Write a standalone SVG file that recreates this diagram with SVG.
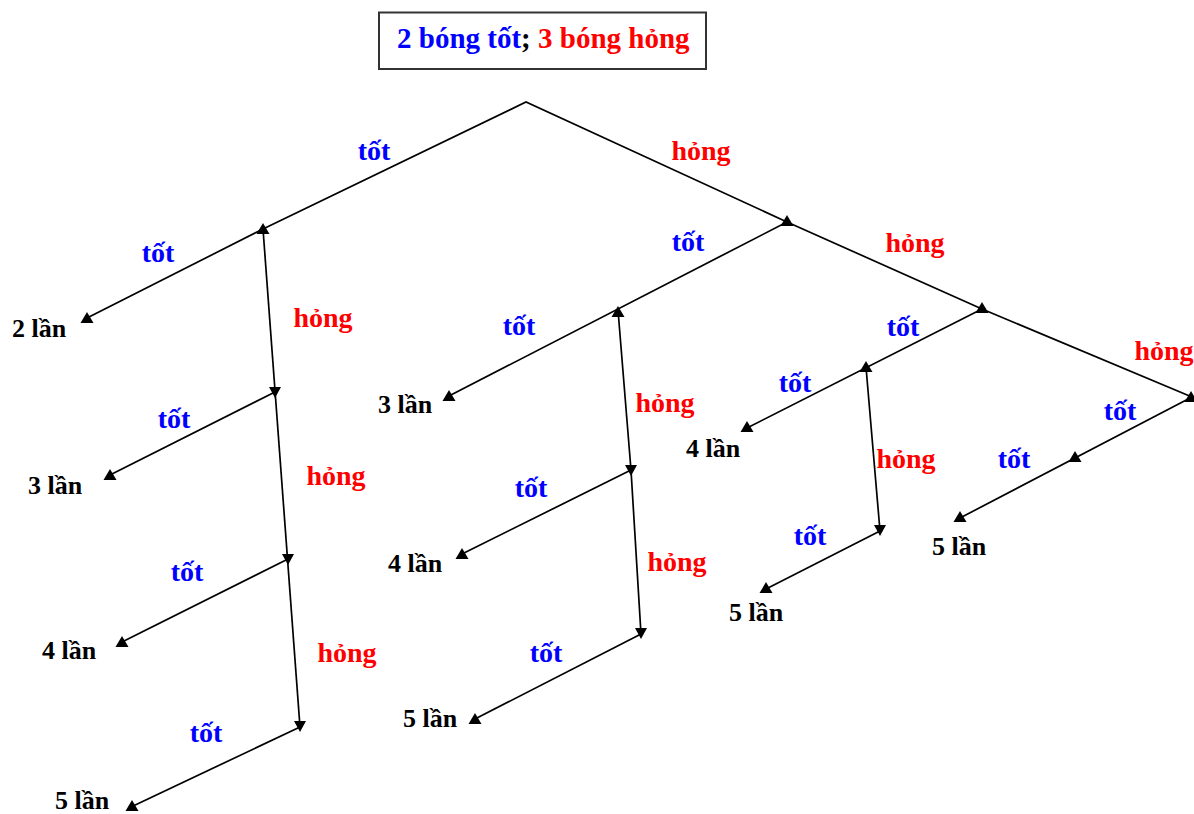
<svg xmlns="http://www.w3.org/2000/svg" xmlns:xlink="http://www.w3.org/1999/xlink" width="1194" height="814" viewBox="0 0 1194 814">
<style>
text{font-family:"Liberation Serif","Times New Roman",serif;font-weight:bold}
.lb{font-size:28px;text-anchor:middle}
.t{fill:#0000ff}
.h{fill:#ff0000}
.n{font-size:26px;fill:#000}
.ln{fill:none;stroke:#000;stroke-width:1.7}
</style>
<defs>
<path id="up" d="M0,-6 L6.5,5 L-6.5,5 Z" fill="#000"/>
<path id="dn" d="M0,6 L6,-5 L-6,-5 Z" fill="#000"/>
</defs>
<rect x="379" y="12.5" width="327" height="56.5" fill="#fff" stroke="#333" stroke-width="2"/>
<text x="397" y="48" style="font-size:29px"><tspan fill="#0000ff">2 bóng tốt</tspan><tspan fill="#000">;</tspan><tspan fill="#ff0000"> 3 bóng hỏng</tspan></text>
<g id="connectors">
<polyline class="ln" points="263,229 526,102 787,222 982,309 1192,397"/>
<line class="ln" x1="263" y1="229" x2="87" y2="318"/>
<line class="ln" x1="263" y1="229" x2="300" y2="727"/>
<line class="ln" x1="275" y1="392" x2="108" y2="476"/>
<line class="ln" x1="288" y1="559" x2="120" y2="643"/>
<line class="ln" x1="300" y1="727" x2="131" y2="807"/>
<line class="ln" x1="787" y1="222" x2="447" y2="397"/>
<polyline class="ln" points="618,310 631,470 641,634"/>
<line class="ln" x1="631" y1="470" x2="460" y2="555"/>
<line class="ln" x1="641" y1="634" x2="473" y2="720"/>
<line class="ln" x1="982" y1="309" x2="747" y2="428"/>
<line class="ln" x1="866" y1="367" x2="880" y2="531"/>
<line class="ln" x1="880" y1="531" x2="766" y2="589"/>
<line class="ln" x1="1192" y1="397" x2="960" y2="518"/>
<use xlink:href="#up" x="263" y="229"/>
<use xlink:href="#up" x="787" y="221"/>
<use xlink:href="#up" x="982" y="308"/>
<use xlink:href="#up" x="1191" y="397"/>
<use xlink:href="#up" x="618" y="312"/>
<use xlink:href="#up" x="866" y="367"/>
<use xlink:href="#up" x="1075" y="457"/>
<use xlink:href="#up" x="87" y="318"/>
<use xlink:href="#up" x="110" y="475"/>
<use xlink:href="#up" x="122" y="642"/>
<use xlink:href="#up" x="132" y="806"/>
<use xlink:href="#up" x="449" y="396"/>
<use xlink:href="#up" x="462" y="554"/>
<use xlink:href="#up" x="475" y="719"/>
<use xlink:href="#up" x="747" y="427"/>
<use xlink:href="#up" x="766" y="588"/>
<use xlink:href="#up" x="960" y="517"/>
<use xlink:href="#dn" x="275" y="392"/>
<use xlink:href="#dn" x="288" y="559"/>
<use xlink:href="#dn" x="300" y="726"/>
<use xlink:href="#dn" x="631" y="470"/>
<use xlink:href="#dn" x="641" y="633"/>
<use xlink:href="#dn" x="880" y="530"/>
</g>
<g id="labels">
<text class="lb t" x="374" y="160">tốt</text>
<text class="lb h" x="701" y="160">hỏng</text>
<text class="lb t" x="158" y="262">tốt</text>
<text class="lb h" x="323" y="327">hỏng</text>
<text class="lb t" x="174" y="428">tốt</text>
<text class="lb h" x="336" y="485">hỏng</text>
<text class="lb t" x="187" y="581">tốt</text>
<text class="lb h" x="347" y="662">hỏng</text>
<text class="lb t" x="206" y="742">tốt</text>
<text class="lb t" x="688" y="251">tốt</text>
<text class="lb h" x="915" y="252">hỏng</text>
<text class="lb t" x="519" y="335">tốt</text>
<text class="lb h" x="665" y="412">hỏng</text>
<text class="lb t" x="531" y="497">tốt</text>
<text class="lb h" x="677" y="571">hỏng</text>
<text class="lb t" x="546" y="662">tốt</text>
<text class="lb t" x="903" y="336">tốt</text>
<text class="lb h" x="1164" y="360">hỏng</text>
<text class="lb t" x="795" y="392">tốt</text>
<text class="lb h" x="906" y="468">hỏng</text>
<text class="lb t" x="1120" y="420">tốt</text>
<text class="lb t" x="1014" y="468">tốt</text>
<text class="lb t" x="810" y="545">tốt</text>
</g>
<g id="leaves">
<text class="n" x="12" y="337">2 lần</text>
<text class="n" x="28" y="494">3 lần</text>
<text class="n" x="42" y="659">4 lần</text>
<text class="n" x="55" y="809">5 lần</text>
<text class="n" x="378" y="413">3 lần</text>
<text class="n" x="388" y="572">4 lần</text>
<text class="n" x="403" y="727">5 lần</text>
<text class="n" x="686" y="457">4 lần</text>
<text class="n" x="729" y="621">5 lần</text>
<text class="n" x="932" y="555">5 lần</text>
</g>
</svg>
